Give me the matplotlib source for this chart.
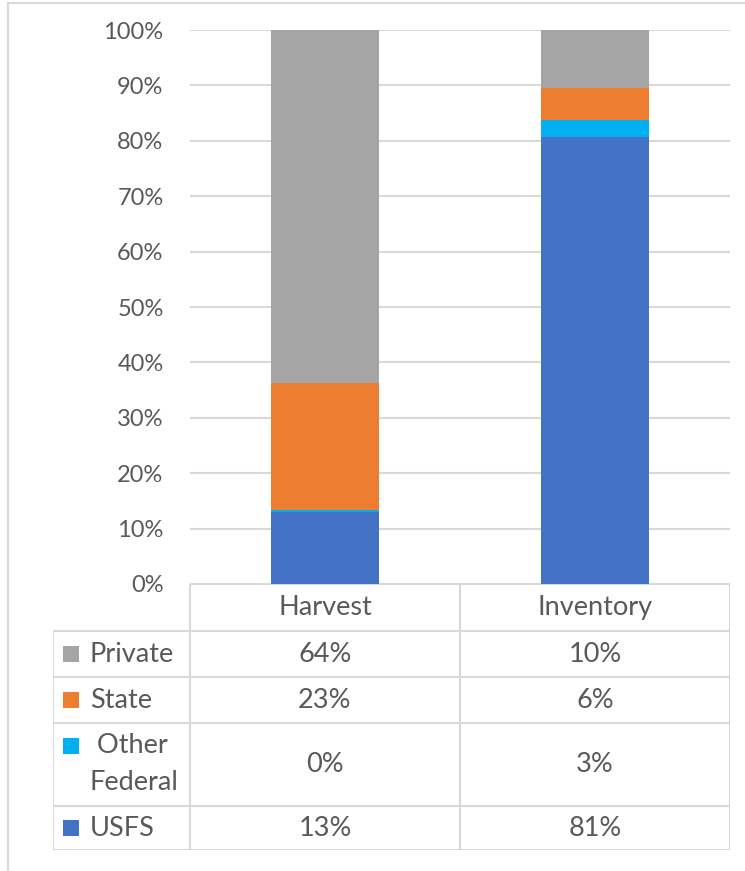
import matplotlib.pyplot as plt
from matplotlib.patches import Rectangle

plt.rcParams['font.family'] = ['Lato', 'DejaVu Sans']

# データ
categories = ["Harvest", "Inventory"]
owners = ["USFS", "Other Federal", "State", "Private"]
values = {
    "USFS": [0.130, 0.806],
    "Other Federal": [0.003, 0.031],
    "State": [0.230, 0.059],
    "Private": [0.637, 0.104],
}
colors = {
    "USFS": "#4472C4",
    "Other Federal": "#00B0F0",
    "State": "#ED7D31",
    "Private": "#A5A5A5",
}
row_labels = {"USFS": "USFS", "Other Federal": " Other\nFederal", "State": "State", "Private": "Private"}
yticks = [i / 10 for i in range(11)]

W, H = 745, 871
fig = plt.figure(figsize=(W / 100, H / 100), dpi=100)
grid_c = "#d9d9d9"
txt_c = "#595959"
tab_fs = 19.5

# 外枠
fig.add_artist(plt.Line2D([8 / W, 8 / W], [0, 1 - 3 / H], color=grid_c, lw=1.5))
fig.add_artist(plt.Line2D([8 / W, 1], [1 - 3 / H, 1 - 3 / H], color=grid_c, lw=1.5))

# 棒グラフ
x0, x1, ytop, ybot = 190, 730, 30, 584
ax = fig.add_axes([x0 / W, 1 - ybot / H, (x1 - x0) / W, (ybot - ytop) / H])
bottom = [0, 0]
for o in owners:
    ax.bar(range(len(categories)), values[o], bottom=bottom, width=0.4, color=colors[o], zorder=3)
    bottom = [b + v for b, v in zip(bottom, values[o])]
ax.set_xlim(-0.5, 1.5)
ax.set_ylim(0, 1)
ax.set_yticks(yticks)
ax.set_yticklabels([f"{int(t * 100)}%" for t in yticks], fontsize=17, color=txt_c)
ax.tick_params(axis="y", length=0, pad=19)
ax.set_xticks([])
ax.grid(axis="y", color=grid_c, lw=1.5, zorder=0)
for s in ax.spines.values():
    s.set_visible(False)

# データテーブル
row_h = [47, 46, 46, 83, 44]  # header, Private, State, Other Federal, USFS
tl, tb = 53, 850
tax = fig.add_axes([tl / W, 1 - tb / H, (x1 - tl) / W, (tb - ybot) / H])
lw_units = (x0 - tl) / ((x1 - x0) / 2)
tax.set_xlim(-0.5 - lw_units, 1.5)
tax.set_ylim(tb, ybot)
tax.axis("off")

bounds = [ybot]
for h in row_h:
    bounds.append(bounds[-1] + h)

kw = dict(color=grid_c, lw=1.5, solid_capstyle="projecting")
# 横線
tax.plot([-0.5, 1.5], [bounds[0]] * 2, **kw)
for b in bounds[1:]:
    tax.plot([-0.5 - lw_units, 1.5], [b, b], **kw)
# 縦線
tax.plot([-0.5 - lw_units] * 2, [bounds[1], bounds[-1]], **kw)
for xv in [-0.5, 0.5, 1.5]:
    tax.plot([xv, xv], [bounds[0], bounds[-1]], **kw)

for i, c in enumerate(categories):
    tax.text(i, (bounds[0] + bounds[1]) / 2, c, ha="center", va="center", fontsize=tab_fs, color=txt_c)

unit = (x1 - x0) / 2
for r, o in enumerate(["Private", "State", "Other Federal", "USFS"]):
    yt, yb = bounds[r + 1], bounds[r + 2]
    yc = (yt + yb) / 2
    for i in range(len(categories)):
        tax.text(i, yc, f"{values[o][i] * 100:.0f}%", ha="center", va="center", fontsize=tab_fs, color=txt_c)
    sq_x = -0.5 - lw_units + 10 / unit
    if "\n" in row_labels[o]:
        l1, l2 = row_labels[o].split("\n")
        ya, yb2 = yc - 19, yc + 18
        tax.text(-0.5 - lw_units + 37 / unit, ya, l1, ha="left", va="center", fontsize=tab_fs, color=txt_c)
        tax.text(-0.5 - lw_units + 37 / unit, yb2, l2, ha="left", va="center", fontsize=tab_fs, color=txt_c)
        sy = ya
    else:
        tax.text(-0.5 - lw_units + 37 / unit, yc, row_labels[o], ha="left", va="center", fontsize=tab_fs, color=txt_c)
        sy = yc
    tax.add_patch(Rectangle((sq_x, sy - 8), 16 / unit, 16, color=colors[o], lw=0))

fig.savefig("out.png", dpi=100)
